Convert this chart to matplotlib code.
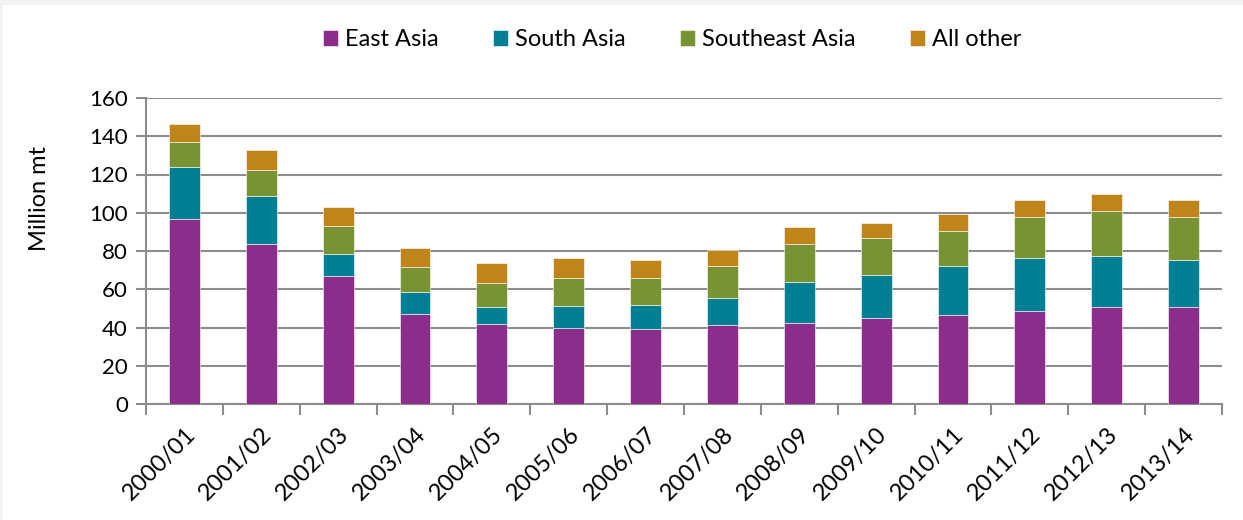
import matplotlib.pyplot as plt
import numpy as np
from matplotlib.patches import Rectangle

# data (million mt)
years = ["2000/01", "2001/02", "2002/03", "2003/04", "2004/05", "2005/06", "2006/07",
         "2007/08", "2008/09", "2009/10", "2010/11", "2011/12", "2012/13", "2013/14"]
east_asia = [96.8, 83.5, 66.7, 46.8, 41.6, 40.0, 39.1, 41.1, 42.3, 44.8, 46.5, 48.8, 50.6, 50.6]
south_asia = [27.2, 25.0, 11.9, 11.9, 9.2, 11.4, 12.7, 14.3, 21.6, 22.7, 25.4, 27.5, 26.9, 24.6]
southeast_asia = [12.8, 13.6, 14.3, 12.7, 12.6, 14.7, 14.3, 16.7, 20.0, 19.3, 18.5, 21.3, 23.3, 22.4]
all_other = [9.6, 10.5, 10.0, 10.0, 10.1, 10.2, 9.0, 8.6, 8.6, 7.8, 9.1, 9.1, 9.0, 9.1]

series = [("East Asia", east_asia, "#8B2E8B"),
          ("South Asia", south_asia, "#007F94"),
          ("Southeast Asia", southeast_asia, "#779334"),
          ("All other", all_other, "#BF841A")]

plt.rcParams['font.family'] = ['Lato', 'DejaVu Sans']
grid_col = "#8C8C8C"

fig = plt.figure(figsize=(12.43, 5.2), dpi=100, facecolor="#F2F2F2")
# white panel with thin grey frame at top/left like the source
panel = Rectangle((3 / 1243, 0), 1, 1 - 5 / 520, transform=fig.transFigure,
                  facecolor="white", edgecolor="none", zorder=-10)
fig.add_artist(panel)
ax = fig.add_axes([146 / 1243, 1 - 404 / 520, (1222 - 146) / 1243, (404 - 98) / 520])
ax.set_facecolor("white")

x = np.arange(len(years))
bottom = np.zeros(len(years))
for name, vals, col in series:
    ax.bar(x, vals, width=0.4, bottom=bottom, color=col, label=name,
           edgecolor="white", linewidth=0.4, zorder=3)
    bottom += np.array(vals)

ax.set_xlim(-0.5, len(years) - 0.5)
ax.set_ylim(0, 160)
ax.set_yticks(range(0, 161, 20))
ax.yaxis.grid(True, color=grid_col, linewidth=1.5, zorder=0)
ax.set_axisbelow(True)

for s in ["top", "right"]:
    ax.spines[s].set_visible(False)
for s in ["left", "bottom"]:
    ax.spines[s].set_color(grid_col)
    ax.spines[s].set_linewidth(1.5)

ax.set_xticks(x)
ax.set_xticklabels(years, rotation=45, ha="right", rotation_mode="anchor", fontsize=17)
ax.tick_params(axis="x", which="major", length=0, pad=14)
ax.set_xticks(np.arange(-0.5, len(years), 1), minor=True)
ax.tick_params(axis="x", which="minor", length=8, width=1.5, color=grid_col)
ax.tick_params(axis="y", length=7, width=1.5, color=grid_col, labelsize=16, pad=6)

ax.set_ylabel("Million mt", fontsize=17)
ax.yaxis.set_label_coords(-0.089, 0.67)

ax.legend(loc="center", bbox_to_anchor=(672 / 1243, 1 - 40 / 520), bbox_transform=fig.transFigure,
          ncol=4, frameon=False, fontsize=17, handlelength=0.64, handleheight=0.64,
          handletextpad=0.3, columnspacing=2.3)

fig.savefig("out.png", dpi=100, facecolor=fig.get_facecolor())
